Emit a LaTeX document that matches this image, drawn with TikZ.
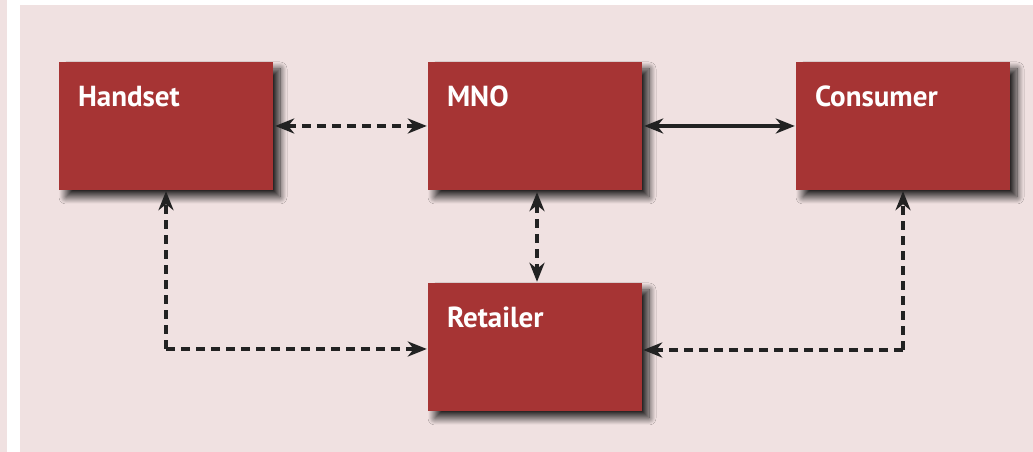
\documentclass[tikz,border=0pt]{standalone}
\usepackage{fontspec}
\setsansfont{PT Sans}
\usetikzlibrary{shadows.blur,arrows.meta}
\definecolor{panel}{HTML}{F0E1E1}
\definecolor{boxred}{HTML}{A63434}
\definecolor{ink}{HTML}{222222}
\tikzset{
  box/.style={fill=boxred, draw=none, minimum width=214pt, minimum height=128pt, inner sep=0pt,
    blur shadow={shadow xshift=7pt, shadow yshift=-7pt, shadow blur radius=7pt, shadow blur steps=14, shadow opacity=85}},
  lbl/.style={anchor=base west, text=white, font=\sffamily\bfseries\fontsize{29}{33}\selectfont, inner sep=0pt},
  conn/.style={draw=ink, line width=3.2pt, {Stealth[length=19pt,width=15pt,inset=6pt]}-{Stealth[length=19pt,width=15pt,inset=6pt]}, shorten <=2pt, shorten >=1pt},
  oneway/.style={draw=ink, line width=3.2pt, -{Stealth[length=19pt,width=15pt,inset=6pt]}, shorten >=1pt},
  dsh/.style={dash pattern=on 9pt off 6pt}
}
\begin{document}
\begin{tikzpicture}[x=1pt,y=1pt]
\useasboundingbox (0,0) rectangle (1033,452);
\fill[white] (0,0) rectangle (1033,452);
\fill[panel] (0,0) rectangle (7,452);
\fill[panel] (20,0) rectangle (1033,447);

\node[box] (handset) at (166,326) {};
\node[box] (mno) at (535,326) {};
\node[box] (consumer) at (903,326) {};
\node[box] (retailer) at (535,105) {};

\node[lbl] (handsetlbl) at ([xshift=19pt,yshift=-45pt]handset.north west) {Handset};
\node[lbl] (mnolbl) at ([xshift=19pt,yshift=-45pt]mno.north west) {MNO};
\node[lbl] (consumerlbl) at ([xshift=19pt,yshift=-45pt]consumer.north west) {Consumer};
\node[lbl] (retailerlbl) at ([xshift=19pt,yshift=-45pt]retailer.north west) {Retailer};

\draw[conn,dsh] (handset.east) -- (mno.west);
\draw[conn] (mno.east) -- (consumer.west);
\draw[conn,dsh] ([xshift=2pt]mno.south) -- ([xshift=2pt]retailer.north);

\coordinate (hc) at ([yshift=-2pt]handset.south |- retailer.west);
\coordinate (cc) at ([yshift=-3pt]consumer.south |- retailer.west);
\draw[oneway,dsh] (hc) -- (handset.south);
\draw[oneway,dsh] (hc) -- ([yshift=-2pt]retailer.west);
\draw[oneway,dsh] (cc) -- (consumer.south);
\draw[oneway,dsh] (cc) -- ([yshift=-3pt]retailer.east);
\end{tikzpicture}
\end{document}
